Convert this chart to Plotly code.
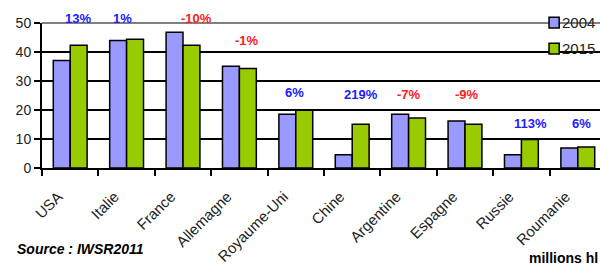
import plotly.graph_objects as go

categories = ["USA", "Italie", "France", "Allemagne", "Royaume-Uni", "Chine",
              "Argentine", "Espagne", "Russie", "Roumanie"]
v2004 = [37.1, 44.0, 46.8, 35.1, 18.5, 4.6, 18.5, 16.2, 4.6, 6.9]
v2015 = [42.3, 44.4, 42.3, 34.3, 19.9, 15.1, 17.2, 15.1, 9.8, 7.2]
pct_labels = ["13%", "1%", "-10%", "-1%", "6%", "219%", "-7%", "-9%", "113%", "6%"]
series_names = ["2004", "2015"]
series_colors = ["#9999ff", "#99cc00"]

# label layout (positions of the percentage annotations, in axis units / px shifts)
label_y = [51.7, 51.7, 51.7, 43.8, 25.9, 25.5, 25.5, 25.5, 15.5, 15.5]
label_dx = [8, -4, 13, 8, -1, 9, 0, 2, 9, 4]
Y_MAX = 50

fig = go.Figure()
for name, vals, col in zip(series_names, [v2004, v2015], series_colors):
    fig.add_trace(go.Bar(name=name, x=categories, y=vals, showlegend=False,
                         marker=dict(color=col, line=dict(color="black", width=1.5))))

for c, t, y, dx in zip(categories, pct_labels, label_y, label_dx):
    col = "#ff2020" if t.startswith("-") else "#2020ff"
    fig.add_annotation(x=c, y=y / Y_MAX, yref="paper", yanchor="middle", text=t,
                       showarrow=False, xshift=dx,
                       font=dict(family="Arial, Liberation Sans", size=13, color=col, weight="bold"))

# top / right border lines (gray)
fig.add_shape(type="line", xref="paper", yref="paper", x0=0, x1=1, y0=1, y1=1,
              line=dict(color="#808080", width=2))
fig.add_shape(type="line", xref="paper", yref="paper", x0=1, x1=1, y0=0, y1=1,
              line=dict(color="#808080", width=2))

# legend (drawn manually to mimic the compact original)
leg_y = [1.003, 0.824]
for name, col, ly in zip(series_names, series_colors, leg_y):
    fig.add_shape(type="rect", xref="paper", yref="paper", x0=0.899, x1=0.917,
                  y0=ly - 0.037, y1=ly + 0.037, fillcolor=col, line=dict(color="black", width=1.5))
    fig.add_annotation(xref="paper", yref="paper", x=0.919, y=ly, xanchor="left", yanchor="middle",
                       text=name, showarrow=False,
                       font=dict(family="Arial, Liberation Sans", size=15, color="#222"))

fig.add_annotation(xref="paper", yref="paper", x=-0.048, y=-0.56, xanchor="left", yanchor="middle",
                   text="<b><i>Source : IWSR2011</i></b>", showarrow=False,
                   font=dict(family="Arial, Liberation Sans", size=14, color="black"))
fig.add_annotation(xref="paper", yref="paper", x=0.99, y=-0.62, xanchor="right", yanchor="middle",
                   text="<b>millions hl</b>", showarrow=False,
                   font=dict(family="Arial, Liberation Sans", size=14, color="black"))

# The page body adds an 8px offset, so the figure is 8px smaller and margins shifted.
fig.update_layout(
    width=600, height=257,
    margin=dict(l=34, r=2, t=15, b=97, autoexpand=False),
    barmode="group", bargap=0.4, bargroupgap=0,
    plot_bgcolor="white", paper_bgcolor="white",
    font=dict(family="Arial, Liberation Sans", color="#222"),
    yaxis=dict(range=[0, Y_MAX], tickvals=[0, 10, 20, 30, 40, 50], showgrid=True,
               gridcolor="black", gridwidth=1.5, showline=True, linecolor="black", linewidth=2,
               ticks="outside", ticklen=6, tickcolor="black", tickwidth=2,
               tickfont=dict(size=14, color="#222"), zeroline=False, automargin=False),
    xaxis=dict(showline=True, linecolor="black", linewidth=2, ticks="outside", ticklen=6,
               tickcolor="black", tickwidth=2, tickson="boundaries", tickangle=-45,
               tickfont=dict(size=15, color="#222"), ticklabelshift=-12, ticklabelstandoff=12,
               range=[-0.5, 9.5], automargin=False),
)

fig.write_html("out.html")
